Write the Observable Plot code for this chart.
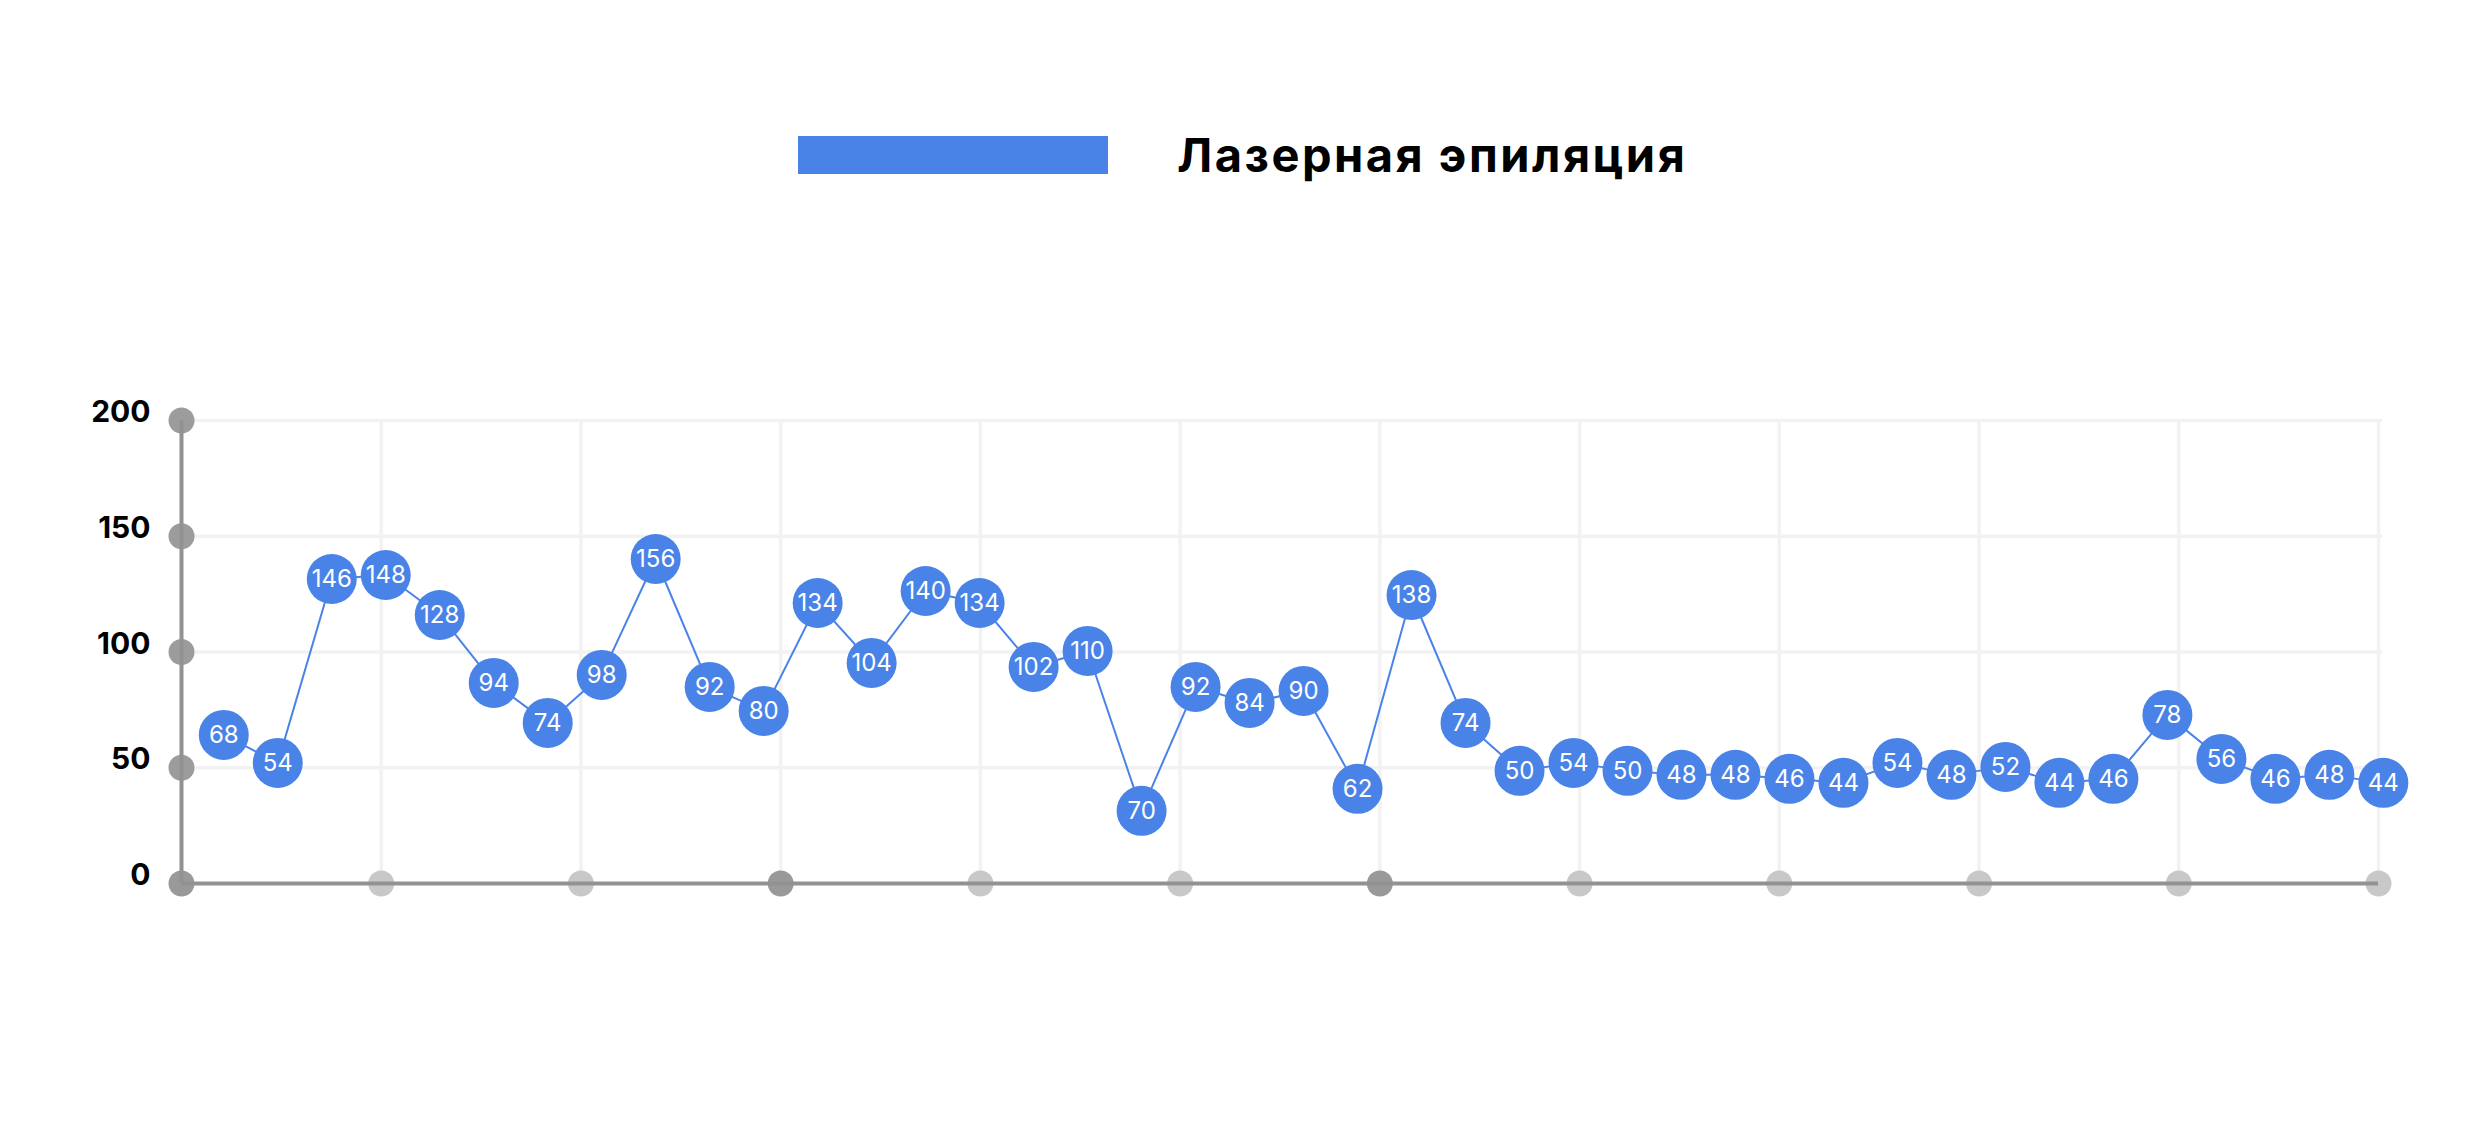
<!DOCTYPE html>
<html><head><meta charset="utf-8">
<script src="https://cdn.jsdelivr.net/npm/d3@7"></script>
<script src="https://cdn.jsdelivr.net/npm/@observablehq/plot@0.6"></script>
<style>
body{margin:0;background:#fff;width:2488px;height:1136px;overflow:hidden;font-family:Inter,"Open Sans",sans-serif}
#legend{position:relative;height:300px;width:2488px}
#legend .sw{position:absolute;left:798px;top:136px;width:310px;height:38px;background:#4A83E8}
#legend .lb{position:absolute;left:1177px;top:130px;font-size:47px;font-weight:700;letter-spacing:2.5px;line-height:50px;color:#000;white-space:nowrap}
</style></head><body>
<div id="legend"><div class="sw"></div><div class="lb" id="seriesName"></div></div>
<div id="chart"></div>
<script>
const seriesName = "Лазерная эпиляция";
// labels printed inside the markers
const pointLabels = [68,54,146,148,128,94,74,98,156,92,80,134,104,140,134,102,110,70,92,84,90,62,138,74,50,54,50,48,48,46,44,54,48,52,44,46,78,56,46,48,44];
// values at which the markers are drawn (as read from their positions)
const pointValues = [68,54,146,148,128,94,74,98,156,92,80,134,104,140,134,102,110,30,92,84,90,41,138,74,50,54,50,48,48,46,44,54,48,52,44,46,78,56,46,48,44];
const yTickLabels = ["0","50","100","150","200"];
const xDomain = [-0.783, 39.91];
const yDomain = [-6.35, 225.3];
const xGridCount = 11;
const xDotDark = [0,3,6];

document.getElementById("seriesName").textContent = seriesName;

const blue = "#4A83E8";
const data = pointValues.map((v,i)=>({i, v, label: String(pointLabels[i])}));
const xTicks = d3.range(xGridCount+1).map(k => xDomain[0] + k*(xDomain[1]-xDomain[0])/xGridCount);
const yTicks = d3.range(yTickLabels.length).map(k => yDomain[0] + k*(yDomain[1]-yDomain[0])/(yTickLabels.length-1));
const yTickData = yTicks.map((y,k)=>({y, label: yTickLabels[k]}));
const xDotData = xTicks.map((x,k)=>({x, dark: xDotDark.includes(k)}));

const chart = Plot.plot({
  width: 2488, height: 836,
  marginLeft: 181, marginRight: 110, marginTop: 120, marginBottom: 253,
  x: {domain: xDomain, axis: null},
  y: {domain: yDomain, axis: null},
  style: {fontFamily: "Inter, 'Open Sans', sans-serif", background: "transparent", color: "#000", overflow: "visible"},
  marks: [
    Plot.ruleY(yTicks.slice(1), {x1: xDomain[0], x2: xDomain[1] + 0.08, stroke: "#f2f2f2", strokeWidth: 3.5}),
    Plot.ruleX(xTicks.slice(1), {y1: yDomain[0], y2: yDomain[1], stroke: "#f2f2f2", strokeWidth: 3.5}),
    Plot.dot(yTickData.slice(1), {x: xDomain[0], y: "y", r: 13, fill: "#9c9c9c", stroke: null, ariaLabel: "ydots"}),
    Plot.dot(xDotData.filter(d => d.dark), {x: "x", y: yDomain[0], r: 13, fill: "#999999", stroke: null, ariaLabel: "xdotsdark"}),
    Plot.dot(xDotData.filter(d => !d.dark), {x: "x", y: yDomain[0], r: 13, fill: "#c8c8c8", stroke: null, ariaLabel: "xdotslight"}),
    Plot.ruleX([xDomain[0]], {y1: yDomain[0], y2: yDomain[1], stroke: "#929292", strokeWidth: 4}),
    Plot.ruleY([yDomain[0]], {x1: xDomain[0], x2: xDomain[1], stroke: "#929292", strokeWidth: 4}),
    Plot.text(yTickData, {x: xDomain[0], y: "y", text: "label", textAnchor: "end", dx: -31, dy: -8, fontSize: 30, fontWeight: 700, fill: "#000"}),
    Plot.line(data, {x: "i", y: "v", stroke: blue, strokeWidth: 2}),
    Plot.dot(data, {x: "i", y: "v", r: 25, fill: blue, stroke: null}),
    Plot.text(data, {x: "i", y: "v", text: "label", fill: "#fff", fontSize: 24, fontWeight: 400})
  ]
});
document.getElementById("chart").appendChild(chart);
const svg = d3.select(chart);
const defs = svg.insert("defs", ":first-child");
defs.append("filter").attr("id", "softblur")
  .attr("x", "-50%").attr("y", "-50%").attr("width", "200%").attr("height", "200%")
  .append("feGaussianBlur").attr("stdDeviation", 2.5);
svg.selectAll('g[aria-label="ydots"], g[aria-label="xdotsdark"], g[aria-label="xdotslight"]')
  .selectAll("circle").attr("filter", "url(#softblur)");
</script>
</body></html>
